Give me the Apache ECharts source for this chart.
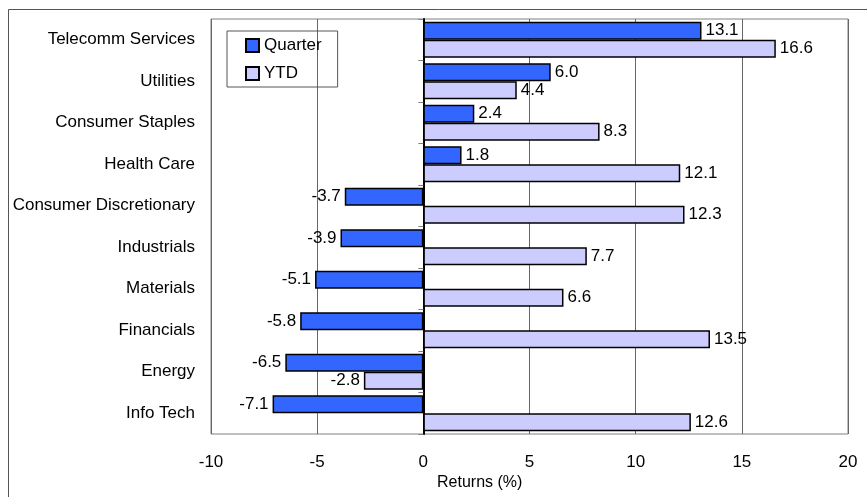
<!DOCTYPE html>
<html>
<head>
<meta charset="utf-8">
<script src="https://cdn.jsdelivr.net/npm/echarts@6/dist/echarts.min.js"></script>
<style>
  html, body { margin: 0; padding: 0; background: #fff; }
  #chart { width: 867px; height: 497px; }
</style>
</head>
<body>
<div id="chart"></div>
<script>
// Sector returns, quarter vs. year-to-date
const sectors = ['Telecomm Services', 'Utilities', 'Consumer Staples', 'Health Care',
  'Consumer Discretionary', 'Industrials', 'Materials', 'Financials', 'Energy', 'Info Tech'];
const quarterReturns = [13.1, 6.0, 2.4, 1.8, -3.7, -3.9, -5.1, -5.8, -6.5, -7.1];
const ytdReturns = [16.6, 4.4, 8.3, 12.1, 12.3, 7.7, 6.6, 13.5, -2.8, 12.6];
const xTicks = { min: -10, max: 20, step: 5 };

const FONT = '"Liberation Sans", Arial, sans-serif';
const FS = 17;

function valueLabel() {
  return {
    show: true,
    position: 'right',
    distance: 4,
    color: '#000',
    fontFamily: FONT,
    fontSize: FS,
    formatter: p => p.value.toFixed(1)
  };
}

function labelled(values) {
  return values.map(v => ({
    value: v,
    label: { position: v < 0 ? 'left' : 'right' }
  }));
}

const chart = echarts.init(document.getElementById('chart'), null, { renderer: 'canvas' });

chart.setOption({
  animation: false,
  backgroundColor: '#fff',
  grid: {
    left: 211, right: 19, top: 19, bottom: 63,
    show: true, borderColor: '#808080', borderWidth: 1,
    containLabel: false,
    outerBoundsMode: 'none'
  },
  legend: {
    orient: 'vertical',
    left: 227, top: 31,
    padding: [6, 16, 5, 18],
    itemGap: 11,
    itemWidth: 13, itemHeight: 13,
    icon: 'rect',
    borderColor: '#555', borderWidth: 1,
    textStyle: { fontFamily: FONT, fontSize: FS, color: '#000', padding: [0, 0, 0, 0] },
    data: ['Quarter', 'YTD']
  },
  xAxis: {
    type: 'value',
    min: xTicks.min, max: xTicks.max, interval: xTicks.step,
    axisLine: { show: false },
    axisTick: { show: false },
    axisLabel: { fontFamily: FONT, fontSize: FS, color: '#000', margin: 20 },
    splitLine: { show: true, lineStyle: { color: '#666', width: 1 } }
  },
  yAxis: [
    {
      type: 'category',
      data: sectors,
      inverse: true,
      position: 'left',
      axisLine: { show: false, onZero: false },
      axisTick: { show: false },
      axisLabel: { fontFamily: FONT, fontSize: FS, color: '#000', margin: 16 }
    },
    {
      type: 'category',
      data: sectors,
      inverse: true,
      position: 'left',
      axisLine: { show: true, onZero: true, lineStyle: { color: '#000', width: 2 } },
      axisTick: { show: true, length: 5, lineStyle: { color: '#808080' } },
      axisLabel: { show: false },
      splitLine: { show: false }
    }
  ],
  series: [
    {
      name: 'Quarter',
      type: 'bar',
      yAxisIndex: 0,
      data: labelled(quarterReturns),
      barWidth: 18,
      barGap: '0%',
      itemStyle: { color: '#3366ff', borderColor: '#000', borderWidth: 1.5 },
      label: valueLabel(),
      z: 3
    },
    {
      name: 'YTD',
      type: 'bar',
      yAxisIndex: 0,
      data: labelled(ytdReturns),
      barWidth: 18,
      barGap: '0%',
      itemStyle: { color: '#ccccff', borderColor: '#000', borderWidth: 1.5 },
      label: valueLabel(),
      z: 3
    }
  ],
  graphic: [
    {
      type: 'rect',
      shape: { x: 8.5, y: 9.5, width: 880, height: 520 },
      style: { fill: 'none', stroke: '#555', lineWidth: 1 },
      silent: true
    },
    {
      type: 'text',
      left: 437, top: 475,
      style: { text: 'Returns (%)', fontFamily: FONT, fontSize: 16, fill: '#000' }
    }
  ]
});
</script>
</body>
</html>
